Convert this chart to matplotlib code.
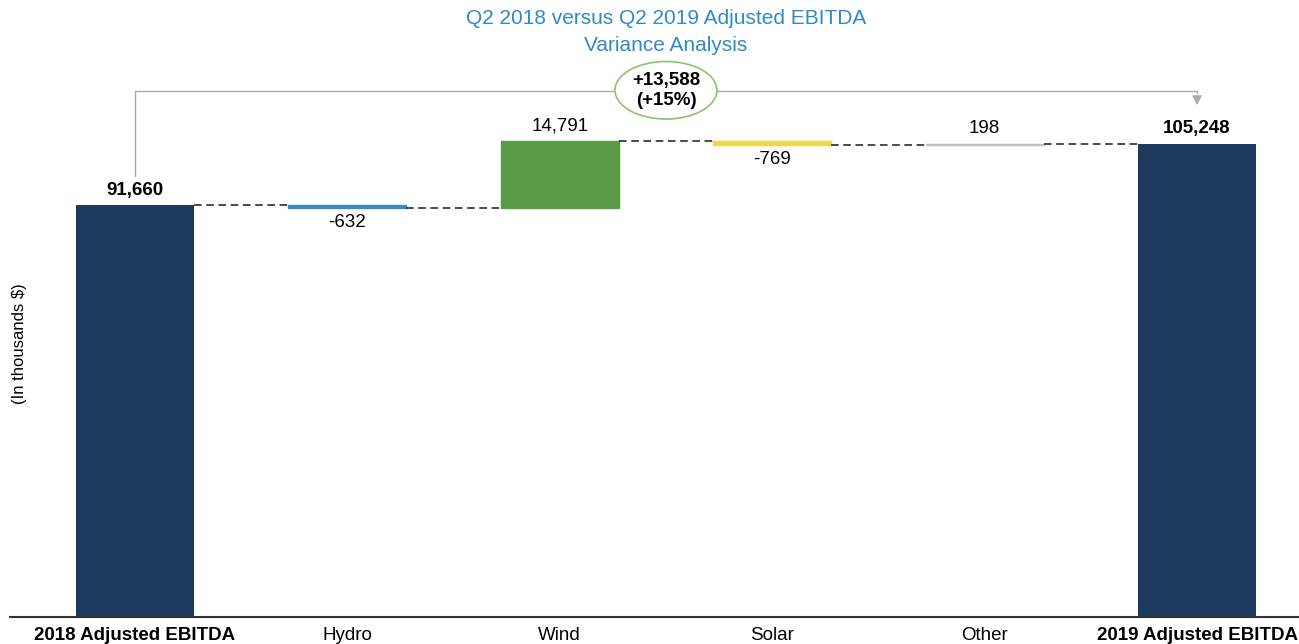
import matplotlib.pyplot as plt
from matplotlib.patches import Ellipse

plt.rcParams['font.family'] = ['Liberation Sans', 'DejaVu Sans']

categories = ['2018 Adjusted EBITDA', 'Hydro', 'Wind', 'Solar', 'Other', '2019 Adjusted EBITDA']
start_value = 91660
changes = [-632, 14791, -769, 198]
end_value = 105248
change_colors = ['#3a8ac4', '#5a9a46', '#f3d54e', '#c0c0c0']
total_color = '#1b3a5e'
variance_text = '+13,588\n(+15%)'

fig = plt.figure(figsize=(12.99, 6.44), dpi=100)
ax = fig.add_axes([10 / 1299, 27 / 644, 1 - 10 / 1299, 617 / 644])

width = 0.555
x = list(range(len(categories)))

# totals
ax.bar(x[0], start_value, width=width, color=total_color)
ax.bar(x[-1], end_value, width=width, color=total_color)

# floating bars
level = start_value
levels = [start_value]
for i, (c, col) in enumerate(zip(changes, change_colors)):
    bottom = level if c >= 0 else level + c
    ax.bar(x[i + 1], abs(c), bottom=bottom, width=width, color=col,
           edgecolor=col, linewidth=1)
    level += c
    levels.append(level)

# dashed connectors
for i, lv in enumerate(levels):
    ax.plot([x[i] + width / 2, x[i + 1] - width / 2], [lv, lv],
            color='#1a1a1a', linestyle=(0, (5, 3)), linewidth=1.1)

# value labels
ax.text(x[0], start_value + 3200, f'{start_value:,}', ha='center', va='center',
        fontsize=13.5, fontweight='bold')
ax.text(x[-1], end_value + 3500, f'{end_value:,}', ha='center', va='center',
        fontsize=13.5, fontweight='bold')
prev = start_value
for i, c in enumerate(changes):
    top = max(prev, prev + c)
    bot = min(prev, prev + c)
    if c >= 0:
        ax.text(x[i + 1], top + 3400, f'{c:,}', ha='center', va='center', fontsize=13.5)
    else:
        ax.text(x[i + 1], bot - 3300, f'{c:,}', ha='center', va='center', fontsize=13.5)
    prev += c

# bracket with arrow
y_br = 117000
ax.plot([x[0], x[0], x[-1], x[-1]], [start_value + 6500, y_br, y_br, end_value + 9800 + 1500],
        color='#aaaaaa', linewidth=1)
ax.annotate('', xy=(x[-1], end_value + 8000), xytext=(x[-1], end_value + 10500),
            arrowprops=dict(arrowstyle='-|>', color='#aaaaaa', lw=1, mutation_scale=14))

# ellipse
ell = Ellipse((2.5, y_br + 200), width=0.48, height=12800, facecolor='white',
              edgecolor='#8dc26f', linewidth=1.2, zorder=3)
ax.add_patch(ell)
ax.text(2.5, y_br + 200, variance_text, ha='center', va='center', fontsize=13.5,
        fontweight='bold', zorder=4, linespacing=1.25)

ax.set_xlim(-0.588, 5.48)
ax.set_ylim(0, 617 * 222.5)
ax.set_xticks(x)
ax.set_xticklabels(categories, fontsize=13.5)
for i, lab in enumerate(ax.get_xticklabels()):
    if i in (0, len(categories) - 1):
        lab.set_fontweight('bold')
ax.tick_params(axis='x', length=0, pad=7)
ax.set_yticks([])
for s in ['top', 'right', 'left']:
    ax.spines[s].set_visible(False)
ax.spines['bottom'].set_linewidth(1.5)
ax.spines['bottom'].set_color('#333333')

fig.text(20 / 1299, 1 - 344 / 644, '(In thousands $)', rotation=90, ha='center', va='center',
         fontsize=12)
fig.text(666 / 1299, 1 - 32 / 644, 'Q2 2018 versus Q2 2019 Adjusted EBITDA\nVariance Analysis',
         ha='center', va='center', fontsize=15, color='#2e8bc5', linespacing=1.55)

fig.savefig('out.png', dpi=100)
